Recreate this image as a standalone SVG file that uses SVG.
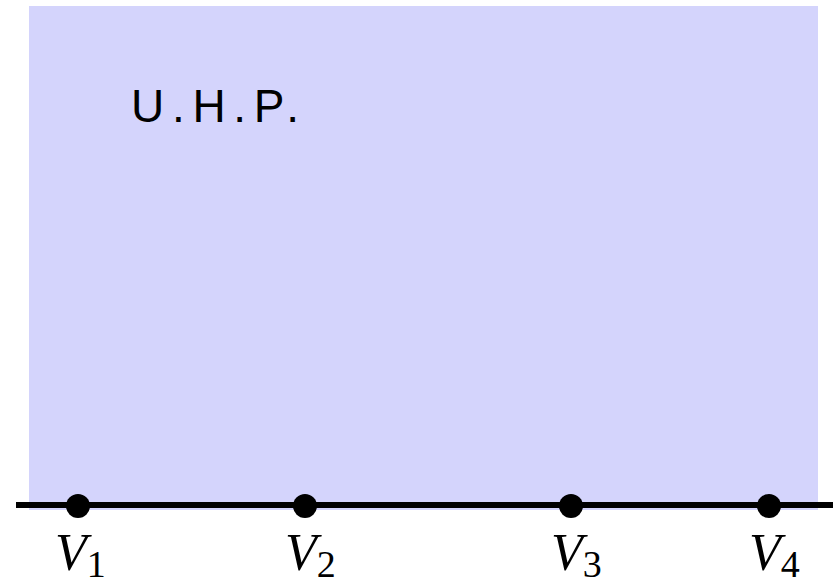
<svg xmlns="http://www.w3.org/2000/svg" width="833" height="585" viewBox="0 0 833 585">
<style>
.lbl{font-family:"Liberation Serif",serif;font-style:italic;font-size:52px;fill:#000}
.sub{font-family:"Liberation Serif",serif;font-style:normal;font-size:38px;fill:#000}
.dot{fill:#000}
</style>
<rect id="uhp-region" x="29" y="6" width="789" height="504" fill="#d4d4fc"/>
<text x="131" y="122" font-family="Liberation Sans, sans-serif" font-size="46" textLength="168" lengthAdjust="spacing" fill="#000">U.H.P.</text>
<g id="connectors">
<line x1="16" y1="505" x2="833" y2="505" stroke="#000" stroke-width="6"/>
</g>
<g id="v1"><circle class="dot" cx="78" cy="506" r="12"/><text class="lbl" x="55" y="570">V<tspan class="sub" dy="7">1</tspan></text></g>
<g id="v2"><circle class="dot" cx="305" cy="506" r="12"/><text class="lbl" x="285" y="570">V<tspan class="sub" dy="7">2</tspan></text></g>
<g id="v3"><circle class="dot" cx="571" cy="506" r="12"/><text class="lbl" x="551" y="570">V<tspan class="sub" dy="7">3</tspan></text></g>
<g id="v4"><circle class="dot" cx="769" cy="506" r="12"/><text class="lbl" x="749" y="570">V<tspan class="sub" dy="7">4</tspan></text></g>
</svg>
